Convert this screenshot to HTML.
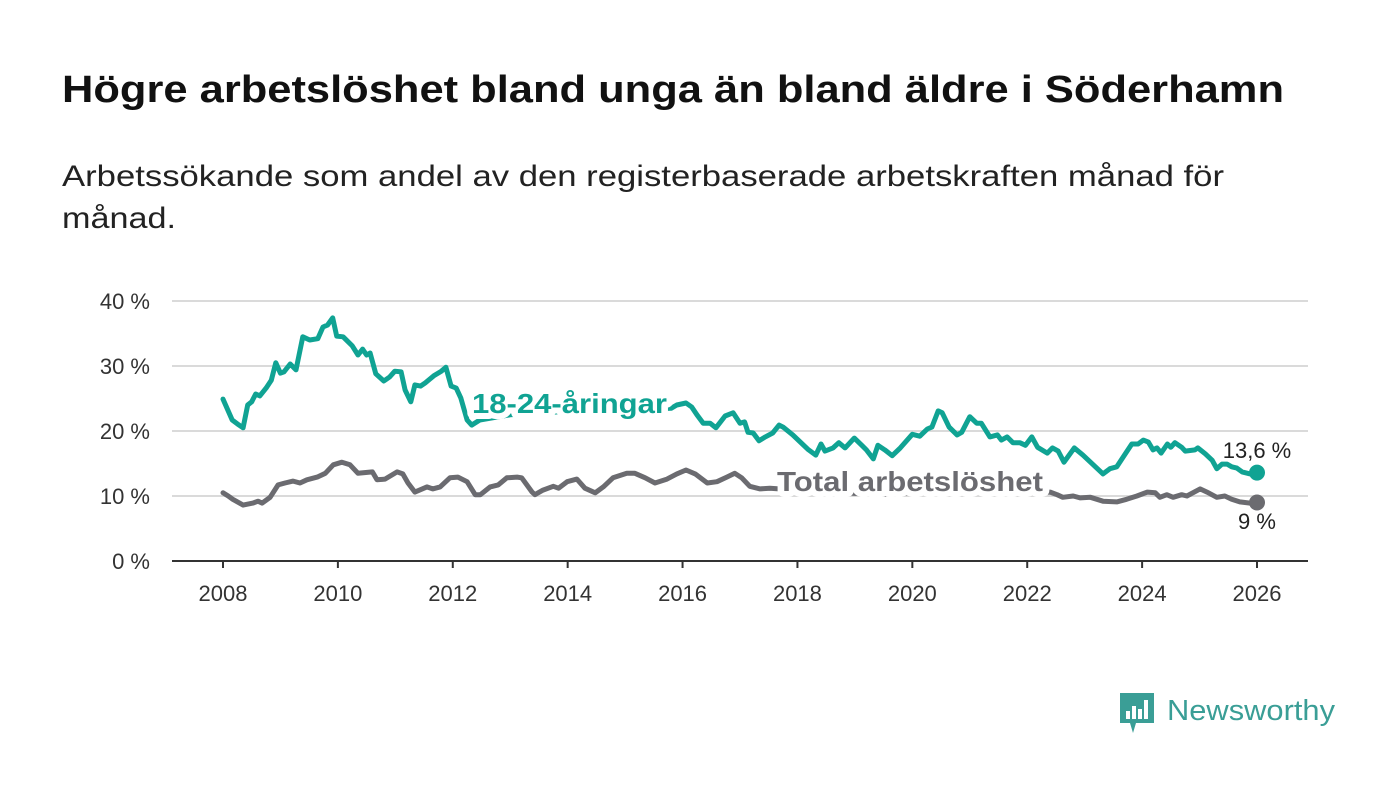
<!DOCTYPE html>
<html><head><meta charset="utf-8"><style>
html,body{margin:0;padding:0;background:#fff}
svg{display:block;font-family:"Liberation Sans",sans-serif}
</style></head><body>
<svg id="chart" width="1400" height="794" viewBox="0 0 1400 794" xmlns="http://www.w3.org/2000/svg">
<text x="62" y="102" font-size="38" font-weight="bold" fill="#111" textLength="1222" lengthAdjust="spacingAndGlyphs">Högre arbetslöshet bland unga än bland äldre i Söderhamn</text>
<text x="62" y="186" font-size="30" fill="#222" textLength="1162" lengthAdjust="spacingAndGlyphs">Arbetssökande som andel av den registerbaserade arbetskraften månad för</text>
<text x="62" y="228" font-size="30" fill="#222" textLength="114" lengthAdjust="spacingAndGlyphs">månad.</text>
<g id="grid"></g>
<g id="lines"></g>
<g id="labels"></g>
<g>
<path d="M1120 693 h34 v30 h-18 l-3 10 l-3 -10 h-10 z" fill="#3a9e96"/>
<rect x="1126" y="711" width="4" height="8" fill="#fff"/>
<rect x="1132" y="706" width="4" height="13" fill="#fff"/>
<rect x="1138" y="709" width="4" height="10" fill="#fff"/>
<rect x="1144" y="700" width="4" height="19" fill="#fff"/>
<text x="1167" y="720" font-size="29" fill="#3a9e96" textLength="168" lengthAdjust="spacingAndGlyphs">Newsworthy</text>
</g>
</svg>
<script>
const yTicks=[0,10,20,30,40];
const xTicks=[2008,2010,2012,2014,2016,2018,2020,2022,2024,2026];
const youthDates=[2008.0,2008.16,2008.25,2008.35,2008.43,2008.5,2008.57,2008.64,2008.75,2008.84,2008.92,2009.0,2009.06,2009.17,2009.27,2009.39,2009.51,2009.65,2009.74,2009.82,2009.91,2009.98,2010.09,2010.25,2010.35,2010.43,2010.5,2010.56,2010.66,2010.8,2010.9,2010.99,2011.1,2011.17,2011.27,2011.34,2011.44,2011.52,2011.67,2011.8,2011.88,2011.97,2012.06,2012.14,2012.25,2012.33,2012.47,2013.0,2013.5,2014.0,2014.5,2015.0,2015.5,2015.8,2015.9,2016.06,2016.16,2016.25,2016.36,2016.48,2016.58,2016.74,2016.88,2017.0,2017.08,2017.14,2017.23,2017.33,2017.44,2017.57,2017.68,2017.75,2017.92,2018.05,2018.18,2018.32,2018.41,2018.48,2018.62,2018.72,2018.83,2018.99,2019.12,2019.2,2019.32,2019.4,2019.52,2019.65,2019.79,2020.0,2020.13,2020.26,2020.34,2020.45,2020.52,2020.64,2020.78,2020.86,2021.0,2021.12,2021.2,2021.35,2021.48,2021.55,2021.65,2021.75,2021.87,2021.97,2022.08,2022.18,2022.35,2022.44,2022.54,2022.64,2022.82,2022.97,2023.15,2023.32,2023.44,2023.56,2023.67,2023.82,2023.93,2024.02,2024.11,2024.19,2024.26,2024.33,2024.44,2024.5,2024.57,2024.69,2024.75,2024.92,2024.97,2025.1,2025.22,2025.3,2025.39,2025.48,2025.56,2025.65,2025.74,2025.88,2026.0];
const youthValues=[24.9,21.7,21.1,20.5,24,24.5,25.7,25.4,26.6,27.8,30.5,28.9,29.1,30.3,29.4,34.5,34,34.2,36,36.3,37.4,34.6,34.5,33.1,31.7,32.6,31.7,32,28.8,27.7,28.3,29.2,29.1,26.3,24.5,27.1,26.9,27.4,28.5,29.2,29.8,26.9,26.6,25.1,21.7,20.9,21.7,22.5,22.8,23,23,23.2,23.4,23.5,24,24.3,23.7,22.5,21.2,21.2,20.5,22.3,22.8,21.2,21.4,19.8,19.7,18.5,19.1,19.7,20.9,20.6,19.4,18.3,17.2,16.3,18,16.9,17.4,18.2,17.4,18.9,17.8,17.1,15.7,17.8,17.1,16.2,17.4,19.5,19.2,20.3,20.6,23.1,22.8,20.6,19.4,19.8,22.2,21.2,21.2,19.1,19.4,18.6,19.1,18.2,18.2,17.8,19.1,17.5,16.6,17.4,16.9,15.2,17.4,16.3,14.8,13.4,14.2,14.5,16,18,18,18.6,18.3,17.1,17.4,16.6,18,17.5,18.2,17.5,16.9,17.1,17.4,16.5,15.5,14.2,14.9,14.9,14.5,14.3,13.7,13.4,13.6];
const totalDates=[2008.0,2008.09,2008.17,2008.35,2008.52,2008.61,2008.68,2008.82,2008.96,2009.08,2009.22,2009.34,2009.46,2009.64,2009.78,2009.92,2010.07,2010.21,2010.35,2010.6,2010.68,2010.82,2011.03,2011.13,2011.22,2011.34,2011.55,2011.65,2011.78,2011.95,2012.09,2012.25,2012.39,2012.48,2012.65,2012.79,2012.94,2013.12,2013.2,2013.38,2013.43,2013.57,2013.75,2013.84,2013.99,2014.16,2014.3,2014.48,2014.62,2014.79,2015.03,2015.17,2015.35,2015.52,2015.73,2015.9,2016.06,2016.22,2016.43,2016.6,2016.77,2016.91,2017.03,2017.17,2017.35,2017.52,2018.0,2018.5,2019.0,2019.5,2020.0,2020.5,2021.0,2021.5,2022.0,2022.4,2022.52,2022.62,2022.8,2022.92,2023.1,2023.32,2023.56,2023.73,2023.91,2024.09,2024.23,2024.31,2024.43,2024.54,2024.69,2024.78,2025.01,2025.13,2025.3,2025.44,2025.56,2025.7,2025.88,2026.0];
const totalValues=[10.5,10,9.5,8.6,8.9,9.2,8.9,9.8,11.7,12,12.3,12,12.5,12.9,13.5,14.8,15.2,14.8,13.5,13.7,12.5,12.6,13.7,13.4,12,10.6,11.4,11.1,11.4,12.8,12.9,12.2,10.2,10.2,11.4,11.7,12.8,12.9,12.8,10.6,10.2,10.9,11.5,11.2,12.2,12.6,11.2,10.5,11.4,12.8,13.5,13.5,12.8,12,12.6,13.4,14,13.4,12,12.2,12.9,13.5,12.8,11.5,11.1,11.2,10.9,10.6,10.4,10.3,10.5,10.6,10.5,10.6,10.5,10.6,10.2,9.8,10,9.7,9.8,9.2,9.1,9.5,10,10.6,10.5,9.8,10.2,9.8,10.2,10,11.1,10.6,9.8,10,9.5,9.1,8.9,9.0];
const NS='http://www.w3.org/2000/svg';
const X=v=>223+(v-2008)*(1257-223)/18;
const Y=v=>561-v*6.5;
function mk(tag,attrs,parent,txt){const e=document.createElementNS(NS,tag);for(const k in attrs)e.setAttribute(k,attrs[k]);if(txt!==undefined)e.textContent=txt;parent.appendChild(e);return e;}
const grid=document.getElementById('grid');
yTicks.forEach(t=>{
  if(t>0){const g=mk('line',{x1:172,x2:1308,y1:Y(t),y2:Y(t),stroke:'#dadada','stroke-width':2},grid);
  
  }
  const l=mk('text',{x:150,y:Y(t)+8,'font-size':22,fill:'#333','text-anchor':'end'},grid,t+' %');
  
  
});
const ax=mk('line',{x1:172,x2:1308,y1:Y(0),y2:Y(0),stroke:'#333','stroke-width':2},grid);


xTicks.forEach(t=>{
  const tk=mk('line',{x1:X(t),x2:X(t),y1:Y(0),y2:Y(0)+7,stroke:'#333','stroke-width':2},grid);
  
  
  const l=mk('text',{x:X(t),y:601,'font-size':22,fill:'#333','text-anchor':'middle'},grid,String(t));
  
  
});
const lines=document.getElementById('lines');
function series(d,v,col,name){
  const p=mk('path',{d:d.map((x,i)=>(i?'L':'M')+X(x).toFixed(1)+' '+Y(v[i]).toFixed(1)).join(''),fill:'none',stroke:col,'stroke-width':5,'stroke-linejoin':'round','stroke-linecap':'round'},lines);
  
  
  const c=mk('circle',{cx:X(d[d.length-1]),cy:Y(v[v.length-1]),r:8,fill:col},lines);
  
  
}
const TEAL='#10a393',GRAY='#6b6b70';
series(totalDates,totalValues,GRAY,'total');
series(youthDates,youthValues,TEAL,'youth');
const labels=document.getElementById('labels');
const s1=mk('text',{x:472,y:413,'font-size':28,'font-weight':'bold',fill:TEAL,stroke:'#fff','stroke-width':12,'paint-order':'stroke','stroke-linejoin':'round',textLength:195,lengthAdjust:'spacingAndGlyphs'},labels,'18-24-åringar');


const s2=mk('text',{x:777,y:491,'font-size':28,'font-weight':'bold',fill:GRAY,stroke:'#fff','stroke-width':12,'paint-order':'stroke','stroke-linejoin':'round',textLength:266,lengthAdjust:'spacingAndGlyphs'},labels,'Total arbetslöshet');


const v1=mk('text',{x:1257,y:458,'font-size':22,fill:'#222','text-anchor':'middle'},labels,'13,6 %');


const v2=mk('text',{x:1257,y:529,'font-size':22,fill:'#222','text-anchor':'middle'},labels,'9 %');


</script>
</body></html>
